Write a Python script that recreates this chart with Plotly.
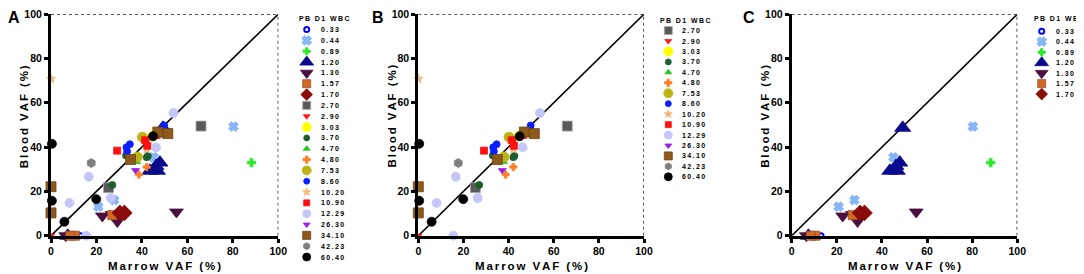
import plotly.graph_objects as go

# ---------------- data ----------------
WBC = ["0.33", "0.44", "0.89", "1.20", "1.30", "1.57", "1.70", "2.70", "2.90", "3.03",
       "3.70", "4.70", "4.80", "7.53", "8.60", "10.20", "10.90", "12.29", "26.30",
       "34.10", "42.23", "60.40"]

MARROW_VAF = [
    [13.0],                                      # 0.33
    [80.3, 45.1, 27.8, 20.8],                    # 0.44
    [88.2],                                      # 0.89
    [49.2, 47.9, 46.2, 45.5, 43.5, 46.8, 7.4],   # 1.20
    [22.6, 26.9, 29.2, 55.2, 6.5],               # 1.30
    [10.5, 8.5, 27.0],                           # 1.57
    [30.3, 32.3],                                # 1.70
    [66.0, 25.3],                                # 2.70
    [0.0],                                       # 2.90
    [44.7, 37.7],                                # 3.03
    [33.0, 42.1, 42.6, 27.0],                    # 3.70
    [37.7],                                      # 4.70
    [38.7, 42.1],                                # 4.80
    [40.2, 38.0],                                # 7.53
    [49.8, 34.7, 33.2, 33.5],                    # 8.60
    [0.0, 42.1],                                 # 10.20
    [29.1, 41.4, 42.4, 46.5],                    # 10.90
    [53.9, 46.2, 16.6, 26.3, 8.1, 15.5],         # 12.29
    [35.4, 37.2, 45.8],                          # 26.30
    [0.0, 0.0, 35.0, 47.0, 51.4],                # 34.10
    [17.7],                                      # 42.23
    [0.4, 0.4, 5.9, 19.9, 44.9],                 # 60.40
]

BLOOD_VAF = [
    [0.0],                                       # 0.33
    [49.3, 35.4, 16.1, 13.1],                    # 0.44
    [33.0],                                      # 0.89
    [48.7, 33.0, 31.5, 30.0, 29.3, 29.3, 0.0],   # 1.20
    [8.9, 9.6, 6.4, 10.7, 0.0],                  # 1.30
    [0.0, 0.0, 9.3],                             # 1.57
    [10.3, 10.3],                                # 1.70
    [49.5, 21.7],                                # 2.70
    [0.0],                                       # 2.90
    [45.0, 35.4],                                # 3.03
    [36.2, 35.4, 36.0, 22.9],                    # 3.70
    [33.4],                                      # 4.70
    [27.6, 31.0],                                # 4.80
    [44.5, 35.5],                                # 7.53
    [49.8, 41.3, 39.9, 38.0],                    # 8.60
    [70.8, 39.1],                                # 10.20
    [38.4, 43.1, 40.6, 45.5],                    # 10.90
    [55.4, 39.9, 26.6, 17.0, 14.8, 0.0],         # 12.29
    [34.0, 29.5, 45.0],                          # 26.30
    [22.1, 10.3, 34.4, 46.8, 46.1],              # 34.10
    [32.8],                                      # 42.23
    [41.5, 15.8, 6.3, 16.5, 44.9],               # 60.40
]

TICKS = [0, 20, 40, 60, 80, 100]
PANEL_LETTERS = ["A", "B", "C"]
X_TITLE = "Marrow VAF (%)"
Y_TITLE = "Blood VAF (%)"
LEGEND_TITLE = "PB D1 WBC"
WBC_SPLIT = 2.70   # panel B: WBC >= 2.70, panel C: WBC < 2.70

# ---------------- styles ----------------
SYMBOLS = ["circle-open", "x", "cross", "triangle-up", "triangle-down", "square", "diamond",
           "square", "triangle-down", "circle", "circle", "triangle-up", "cross", "circle",
           "circle", "star", "square", "circle", "triangle-down", "square", "hexagon", "circle"]
COLORS = ["#0000FF", "#86B6F6", "#2EE82E", "#0A0A8C", "#4A0F3F", "#D06A22", "#8B0A0A",
          "#5A5A5A", "#FF1A1A", "#FFFF00", "#1E5E2E", "#22C522", "#FF7F24", "#BDB316",
          "#0A1EFF", "#F7B577", "#FF1010", "#C3C6F7", "#9A20E0", "#8E5A1C", "#808080",
          "#000000"]
LINE_COLORS = ["#0000FF", "#86B6F6", "#2EE82E", "#0A0A8C", "#4A0F3F", "#A0522D", "#8B0A0A",
               "#A8A8A8", "#FF1A1A", "#FFFF00", "#1E5E2E", "#22C522", "#FF7F24", "#BDB316",
               "#0A1EFF", "#F7B577", "#FF1010", "#C3C6F7", "#9A20E0", "#6B4212", "#808080",
               "#000000"]
SIZES = [5, 7, 7, 14, 12, 9, 12, 10, 6, 10, 7, 7, 6, 10, 7, 7, 7, 9, 7, 10, 9, 9]
LEG_SIZES = [5, 7, 6, 12, 11, 8, 9, 8, 6, 9, 6, 6, 6, 9, 6, 6, 6, 8, 6, 8, 7, 8]

# The page body has an 8px margin, so the figure is sized to fit the window after it,
# and reference pixel positions are mapped into figure coordinates below.
OFF = 8
FW, FH = 1084 - OFF, 274 - OFF
FONT = "Arial, Liberation Sans, sans-serif"
SIXTH = "\u2006"
THIN = "\u2009"


def spaced(s, sep):
    return sep.join(list(s))


def px_x(p):
    return (p - OFF) / FW


def px_y(p):
    # reference rows 3..274 mapped onto the visible figure height
    return 1 - (p - 3.0) / 271.0


# panel geometry (reference pixels)
PANEL_X = [(51.0, 278.3), (418.3, 644.0), (791.7, 1017.3)]
PANEL_Y = (9.3, 235.0)
# legend geometry: marker x, label x, first row y, last row y, title x, title y
LEG_GEOM = [(306.7, 319.0, 25.0, 256.7, 297.0, 13.3),
            (668.3, 680.0, 26.0, 175.0, 658.0, 15.3),
            (1041.7, 1054.0, 26.7, 90.7, 1031.5, 13.7)]
LETTER_X = [14.0, 378.3, 749.0]

panel_members = [
    list(range(len(WBC))),
    [i for i, w in enumerate(WBC) if float(w) >= WBC_SPLIT],
    [i for i, w in enumerate(WBC) if float(w) < WBC_SPLIT],
]

fig = go.Figure()
layout = dict(
    width=FW, height=FH, margin=dict(l=0, r=0, t=0, b=0, pad=0, autoexpand=False),
    paper_bgcolor="white", plot_bgcolor="white", showlegend=False,
    font=dict(family=FONT, color="black"),
)
annotations = []
shapes = []

for p in range(3):
    ax = "" if p == 0 else str(p + 1)
    xa, ya = "x" + ax, "y" + ax
    x0, x1 = PANEL_X[p]
    axis_common = dict(
        range=[0, 100], showgrid=False, zeroline=False, showline=True, automargin=False,
        linecolor="black", linewidth=3, ticks="outside", ticklen=4, tickwidth=2.5,
        tickcolor="black", tickvals=TICKS, ticktext=[str(t) for t in TICKS],
        tickfont=dict(family=FONT, size=10.5, color="black", weight="bold"),
        ticklabeloverflow="allow", fixedrange=True,
    )
    layout["xaxis" + ax] = dict(axis_common, domain=[px_x(x0), px_x(x1)], anchor=ya)
    layout["yaxis" + ax] = dict(axis_common, domain=[px_y(PANEL_Y[1]), px_y(PANEL_Y[0])],
                                anchor=xa)
    # identity line and dotted frame
    shapes.append(dict(type="line", xref=xa, yref=ya, x0=0, y0=0, x1=100, y1=100,
                       line=dict(color="black", width=1.6), layer="below"))
    shapes.append(dict(type="line", xref=xa, yref=ya, x0=0, y0=100, x1=100, y1=100,
                       line=dict(color="#222", width=1.5, dash="dot"), layer="below"))
    shapes.append(dict(type="line", xref=xa, yref=ya, x0=100, y0=0, x1=100, y1=100,
                       line=dict(color="#222", width=1.5, dash="dot"), layer="below"))

    for i in panel_members[p]:
        fig.add_trace(go.Scatter(
            x=MARROW_VAF[i], y=BLOOD_VAF[i], mode="markers", name=WBC[i],
            xaxis=xa, yaxis=ya, cliponaxis=False,
            marker=dict(symbol=SYMBOLS[i], size=SIZES[i], color=COLORS[i],
                        line=dict(color=LINE_COLORS[i],
                                  width=2 if SYMBOLS[i] in ("circle-open", "x") else 0.8)),
        ))

    # axis titles and panel letter
    annotations.append(dict(text=spaced(X_TITLE, SIXTH), xref="paper", yref="paper",
                            x=px_x((x0 + x1) / 2), y=px_y(266.0), showarrow=False,
                            xanchor="center", yanchor="middle", borderpad=0,
                            font=dict(family=FONT, size=11.5, weight="bold")))
    annotations.append(dict(text=spaced(Y_TITLE, SIXTH), xref="paper", yref="paper",
                            x=px_x(x0 - 26.3), y=px_y(113.5), showarrow=False, textangle=-90,
                            xanchor="center", yanchor="middle", borderpad=0,
                            font=dict(family=FONT, size=11.5, weight="bold")))
    annotations.append(dict(text=PANEL_LETTERS[p], xref="paper", yref="paper",
                            x=px_x(LETTER_X[p]), y=1.0, showarrow=False,
                            xanchor="center", yanchor="top", borderpad=0,
                            font=dict(family=FONT, size=16, weight="bold")))

    # legend drawn on its own small axis
    lx, tx, yf, yl, ttx, tty = LEG_GEOM[p]
    lax = str(p + 4)
    members = panel_members[p]
    n = len(members)
    layout["xaxis" + lax] = dict(domain=[px_x(lx), px_x(tx)], range=[0, 1], visible=False,
                                 anchor="y" + lax, fixedrange=True, automargin=False)
    layout["yaxis" + lax] = dict(domain=[px_y(yl), px_y(yf)], range=[n - 1, 0], visible=False,
                                 anchor="x" + lax, fixedrange=True, automargin=False)
    for k, i in enumerate(members):
        fig.add_trace(go.Scatter(
            x=[0], y=[k], mode="markers", xaxis="x" + lax, yaxis="y" + lax,
            cliponaxis=False, hoverinfo="skip",
            marker=dict(symbol=SYMBOLS[i], size=LEG_SIZES[i], color=COLORS[i],
                        line=dict(color=LINE_COLORS[i],
                                  width=2 if SYMBOLS[i] in ("circle-open", "x") else 0.8)),
        ))
        annotations.append(dict(text=spaced(WBC[i], THIN), xref="x" + lax, yref="y" + lax,
                                x=1, y=k, showarrow=False, xanchor="left", yanchor="middle",
                                font=dict(family=FONT, size=7, weight="bold")))
    annotations.append(dict(text=spaced(LEGEND_TITLE, THIN), xref="paper", yref="paper",
                            x=px_x(ttx), y=px_y(tty), showarrow=False, xanchor="left",
                            yanchor="middle", font=dict(family=FONT, size=7, weight="bold")))

layout["annotations"] = annotations
layout["shapes"] = shapes
fig.update_layout(**layout)
fig.write_html("out.html")
